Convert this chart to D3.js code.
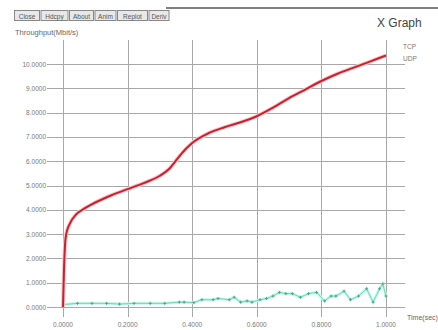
<!DOCTYPE html>
<html>
<head>
<meta charset="utf-8">
<script src="https://cdn.jsdelivr.net/npm/d3@7"></script>
<style>
  html, body { margin: 0; padding: 0; background: #fff; }
  svg { display: block; }
  text { font-family: "Liberation Sans", "DejaVu Sans", sans-serif; }
</style>
</head>
<body>
<svg id="chart" width="438" height="330"></svg>
<script>
// ---- data ----
const buttons = ["Close", "Hdcpy", "About", "Anim", "Replot", "Deriv"];
const yTicks = [0, 1, 2, 3, 4, 5, 6, 7, 8, 9, 10];
const xTicks = [0, 0.2, 0.4, 0.6, 0.8, 1.0];
const seriesNames = ["TCP", "UDP"];

const tcpTime = [0, 0.003, 0.006, 0.01, 0.02, 0.04, 0.06, 0.1, 0.15, 0.2, 0.25, 0.3, 0.33, 0.36, 0.38, 0.4, 0.45, 0.5, 0.55, 0.6, 0.65, 0.7, 0.75, 0.8, 0.85, 0.9, 0.95, 1.0];
const tcpThroughput = [0, 1.5, 2.5, 3.0, 3.4, 3.8, 4.0, 4.3, 4.6, 4.85, 5.1, 5.4, 5.7, 6.2, 6.5, 6.75, 7.15, 7.4, 7.6, 7.85, 8.2, 8.6, 8.95, 9.3, 9.6, 9.85, 10.1, 10.35];

const udpTime = [0, 0.045, 0.09, 0.135, 0.175, 0.22, 0.27, 0.315, 0.36, 0.375, 0.405, 0.43, 0.465, 0.48, 0.515, 0.53, 0.55, 0.57, 0.585, 0.61, 0.63, 0.65, 0.67, 0.69, 0.71, 0.735, 0.76, 0.785, 0.81, 0.83, 0.845, 0.87, 0.89, 0.915, 0.94, 0.96, 0.98, 0.99, 1.0];
const udpThroughput = [0.1, 0.15, 0.15, 0.15, 0.12, 0.15, 0.15, 0.15, 0.2, 0.2, 0.18, 0.3, 0.3, 0.35, 0.3, 0.4, 0.2, 0.25, 0.2, 0.3, 0.35, 0.45, 0.6, 0.55, 0.55, 0.4, 0.55, 0.6, 0.25, 0.45, 0.45, 0.65, 0.3, 0.45, 0.75, 0.2, 0.75, 0.95, 0.45];

// ---- drawing ----
const svg = d3.select("#chart");
const x = d3.scaleLinear().domain([0, 1]).range([63, 386]);
const y = d3.scaleLinear().domain([0, 10]).range([307, 64]);

// top border
svg.append("line").attr("x1", 166).attr("x2", 438).attr("y1", 8).attr("y2", 8)
  .attr("stroke", "#555").attr("stroke-width", 1.5);

// buttons
const bw = [25, 27, 24, 21, 30, 20];
let bx = 14;
buttons.forEach((b, i) => {
  svg.append("rect").attr("x", bx + 0.5).attr("y", 10.5).attr("width", bw[i]).attr("height", 10)
    .attr("fill", "#e8e8e8").attr("stroke", "#888");
  svg.append("text").attr("x", bx + bw[i] / 2 + 0.5).attr("y", 18.5).attr("text-anchor", "middle")
    .attr("font-size", 6.5).attr("fill", "#555").text(b);
  bx += bw[i] + 1.5;
});

// titles
svg.append("text").attr("x", 15).attr("y", 35).attr("font-size", 7.5).attr("fill", "#666")
  .text("Throughput(Mbit/s)");
svg.append("text").attr("x", 377).attr("y", 27).attr("font-size", 12).attr("fill", "#444")
  .text("X Graph");

// grid horizontal
svg.append("g").selectAll("line").data(yTicks).join("line")
  .attr("x1", 47).attr("x2", 405)
  .attr("y1", d => Math.round(y(d)) + 0.5).attr("y2", d => Math.round(y(d)) + 0.5)
  .attr("stroke", "#a8a8a8").attr("stroke-width", 1);
// grid vertical
svg.append("g").selectAll("line").data(xTicks).join("line")
  .attr("x1", d => Math.round(x(d)) + 0.5).attr("x2", d => Math.round(x(d)) + 0.5)
  .attr("y1", 40).attr("y2", 317)
  .attr("stroke", "#a8a8a8").attr("stroke-width", 1);

// y labels
svg.append("g").selectAll("text").data(yTicks).join("text")
  .attr("x", 46).attr("y", d => y(d) + 2.5).attr("text-anchor", "end")
  .attr("font-size", 6.5).attr("fill", "#777").text(d => d.toFixed(4));
// x labels
svg.append("g").selectAll("text").data(xTicks).join("text")
  .attr("x", d => x(d)).attr("y", 327).attr("text-anchor", "middle")
  .attr("font-size", 6.5).attr("fill", "#777").text(d => d.toFixed(4));
svg.append("text").attr("x", 407).attr("y", 320).attr("font-size", 7).attr("fill", "#666")
  .text("Time(sec)");

// legend
seriesNames.forEach((n, i) => {
  svg.append("text").attr("x", 403).attr("y", 49 + i * 12).attr("font-size", 6.5)
    .attr("fill", "#777").text(n);
});

// UDP series
const udpData = udpTime.map((t, i) => [t, udpThroughput[i]]);
const line = d3.line().x(d => x(d[0])).y(d => y(d[1]));
svg.append("path").attr("d", line(udpData)).attr("fill", "none")
  .attr("stroke", "#c8f7e8").attr("stroke-width", 3);
svg.append("path").attr("d", line(udpData)).attr("fill", "none")
  .attr("stroke", "#66dcb8").attr("stroke-width", 1);
svg.append("g").selectAll("path").data(udpData).join("path")
  .attr("d", d => `M${x(d[0]) - 1.5},${y(d[1])}h3M${x(d[0])},${y(d[1]) - 1.5}v3`)
  .attr("stroke", "#4aa88a").attr("stroke-width", 1);

// TCP series
const tcpData = tcpTime.map((t, i) => [t, tcpThroughput[i]]);
const curve = d3.line().x(d => x(d[0])).y(d => y(d[1])).curve(d3.curveMonotoneX);
svg.append("path").attr("d", curve(tcpData)).attr("fill", "none")
  .attr("stroke", "#f6c8cc").attr("stroke-width", 4);
svg.append("path").attr("d", curve(tcpData)).attr("fill", "none")
  .attr("stroke", "#cc1f2e").attr("stroke-width", 2);
</script>
</body>
</html>
